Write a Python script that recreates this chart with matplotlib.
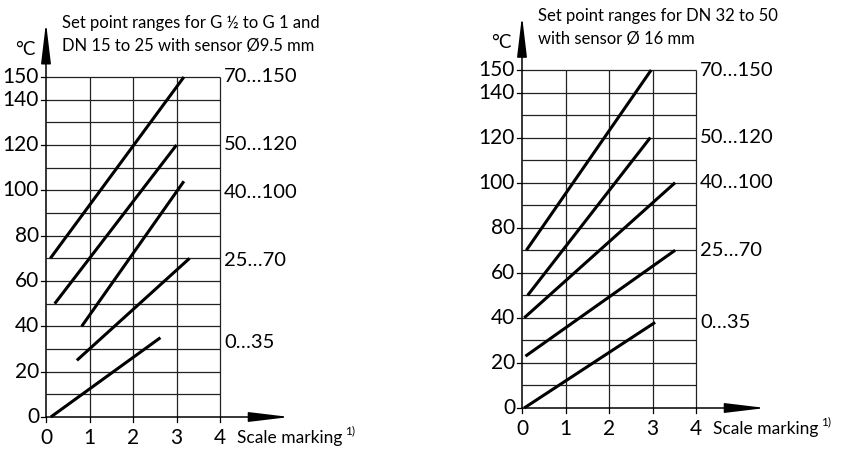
import matplotlib
matplotlib.use("Agg")
import matplotlib.pyplot as plt

plt.rcParams['font.family'] = ['Lato', 'DejaVu Sans']

# -------------------------------
# Data
# -------------------------------
y_ticks = [0, 20, 40, 60, 80, 100, 120, 140, 150]
x_ticks = [0, 1, 2, 3, 4]
grid_y = list(range(10, 151, 10))
grid_x = [1, 2, 3, 4]

left_title = "Set point ranges for G ½ to G 1 and\nDN 15 to 25 with sensor Ø9.5 mm"
left_labels = ["70…150", "50…120", "40…100", "25…70", "0…35"]
left_x0 = [0.10, 0.20, 0.82, 0.71, 0.11]
left_y0 = [70, 50, 40, 25, 0]
left_x1 = [3.17, 3.00, 3.17, 3.30, 2.63]
left_y1 = [150, 120, 104, 70, 35]
left_label_y = [150, 120, 99, 69, 33]

right_title = "Set point ranges for DN 32 to 50\nwith sensor Ø 16 mm"
right_labels = ["70…150", "50…120", "40…100", "25…70", "0…35"]
right_x0 = [0.10, 0.13, 0.05, 0.08, 0.05]
right_y0 = [70, 50, 40, 23, 0]
right_x1 = [2.97, 2.95, 3.52, 3.52, 3.06]
right_y1 = [150, 120, 100, 70, 38]
right_label_y = [150, 120, 100, 70, 38]

W, H = 859, 453


def draw_panel(ax, title, labels, x0, y0, x1, y1, label_y, px_x, px_y):
    """px_x / px_y: pixels per data unit, used for small offsets."""
    ax.set_xlim(0, 4)
    ax.set_ylim(0, 150)
    ax.axis("off")
    kw = dict(clip_on=False)

    # grid
    ax.hlines(grid_y, 0, 4, colors="#222222", lw=0.9, **kw)
    ax.vlines(grid_x, 0, 150, colors="#222222", lw=0.9, **kw)

    # axes with arrows
    arrow = dict(arrowstyle="-|>,head_length=2.5,head_width=0.3", color="black",
                 lw=1.1, shrinkA=0, shrinkB=0, mutation_scale=10)
    ax.annotate("", xy=(0, 174), xytext=(0, 0), arrowprops=arrow, annotation_clip=False)
    ax.annotate("", xy=(5.6, 0), xytext=(0, 0), arrowprops=arrow, annotation_clip=False)

    # ticks
    for v in y_ticks:
        ax.plot([-5 / px_x, 0], [v, v], color="black", lw=0.9, **kw)
        ax.text(-7 / px_x, v, str(v), ha="right", va="center", fontsize=15, **kw)
    for v in x_ticks:
        ax.plot([v, v], [0, -5 / px_y], color="black", lw=0.9, **kw)
        ax.text(v, -21 / px_y, str(v), ha="center", va="center", fontsize=15, **kw)

    ax.text(4.38, -21 / px_y, "Scale marking", ha="left", va="center", fontsize=12.5, **kw)
    ax.text(6.88, -14 / px_y, "1)", ha="left", va="center", fontsize=8.5, **kw)
    ax.text(-11 / px_x, 162, "°C", ha="right", va="center", fontsize=13.5, **kw)
    ax.text(16 / px_x, 160, title, ha="left", va="bottom", fontsize=12,
            linespacing=1.55, **kw)

    # set point range lines
    for xa, ya, xb, yb in zip(x0, y0, x1, y1):
        ax.plot([xa, xb], [ya, yb], color="black", lw=2.2, solid_capstyle="butt", **kw)
    for lab, ly in zip(labels, label_y):
        ax.text(4 + 4 / px_x, ly, lab, ha="left", va="center", fontsize=14.5, **kw)


fig = plt.figure(figsize=(W / 100, H / 100), dpi=100)

# left panel: x 0..4 -> px 46..220, y 0..150 -> px 417..77
axl = fig.add_axes([46 / W, (H - 417) / H, 174 / W, 340 / H])
draw_panel(axl, left_title, left_labels, left_x0, left_y0, left_x1, left_y1,
           left_label_y, 174 / 4, 340 / 150)

# right panel: x 0..4 -> px 522..696, y 0..150 -> px 408..70
axr = fig.add_axes([522 / W, (H - 408) / H, 174 / W, 338 / H])
draw_panel(axr, right_title, right_labels, right_x0, right_y0, right_x1, right_y1,
           right_label_y, 174 / 4, 338 / 150)

fig.savefig("out.png", dpi=100, facecolor="white")
